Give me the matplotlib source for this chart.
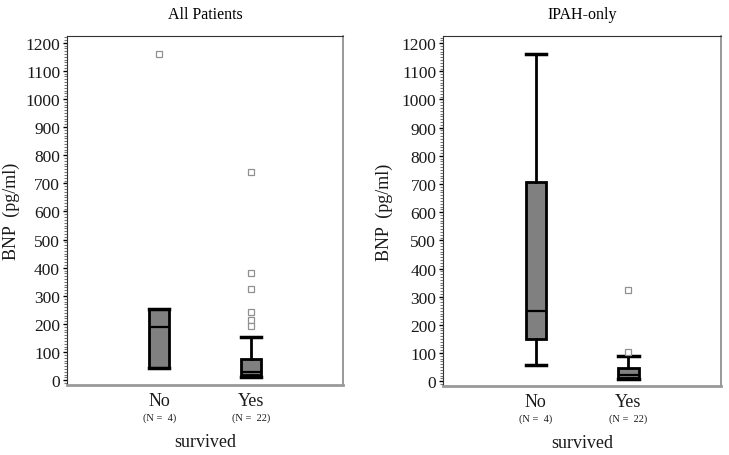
import matplotlib
matplotlib.use('Agg')
import matplotlib.pyplot as plt
from matplotlib.ticker import MultipleLocator, AutoMinorLocator
import matplotlib.transforms as mtransforms

# data
groups = ['No', 'Yes']
counts = [4, 22]

all_q1 = [45, 18]
all_med = [190, 31]
all_q3 = [255, 75]
all_lo = [42, 10]
all_hi = [255, 154]
all_fliers = [[1160], [740, 380, 325, 243, 213, 193]]

ipah_q1 = [150, 12]
ipah_med = [250, 23]
ipah_q3 = [708, 46]
ipah_lo = [58, 8]
ipah_hi = [1160, 91]
ipah_fliers = [[], [325, 105]]

serif = 'Liberation Serif'
txt_col = '#1a1a1a'


def make_stats(q1, med, q3, lo, hi, fliers):
    stats = []
    for i in range(len(groups)):
        stats.append({'q1': q1[i], 'med': med[i], 'q3': q3[i],
                      'whislo': lo[i], 'whishi': hi[i],
                      'fliers': fliers[i], 'label': groups[i]})
    return stats


def draw_panel(ax, stats, title, ylab_x):
    ax.bxp(stats, positions=[1, 2], widths=0.22, patch_artist=True,
           showfliers=True,
           boxprops=dict(facecolor='#808080', edgecolor='black', linewidth=2),
           medianprops=dict(color='black', linewidth=1.6),
           whiskerprops=dict(color='black', linewidth=2),
           capprops=dict(color='black', linewidth=2.5),
           capwidths=0.22,
           flierprops=dict(marker='s', markersize=5, markerfacecolor='white',
                           markeredgecolor='#909090', markeredgewidth=0.9,
                           linestyle='none'))
    ax.set_xlim(0, 3)
    ax.set_ylim(-16, 1224)
    ax.yaxis.set_major_locator(MultipleLocator(100))
    ax.yaxis.set_minor_locator(AutoMinorLocator(10))
    ax.tick_params(axis='y', which='major', length=3, width=1,
                   labelsize=12.5, pad=2)
    ax.tick_params(axis='y', which='minor', length=2, width=0.8,
                   color='#777777')
    ax.tick_params(axis='x', length=0, labelsize=13, pad=5)
    for lab in ax.get_yticklabels():
        lab.set_family(serif)
        lab.set_color(txt_col)
    ax.set_xticks([1, 2])
    ax.set_xticklabels(groups, family=serif, color=txt_col)
    ax.spines['left'].set_color('#333333')
    ax.spines['top'].set_color('#333333')
    ax.spines['right'].set_color('#888888')
    ax.spines['bottom'].set_color('#999999')
    ax.spines['bottom'].set_linewidth(2)
    ax.spines['right'].set_linewidth(1.2)

    trans = mtransforms.blended_transform_factory(ax.transData, ax.transAxes)
    for pos, n in zip([1, 2], counts):
        ax.text(pos, -0.093, '(N =  %d)' % n, transform=trans,
                ha='center', va='center', fontsize=7.5, family=serif,
                color=txt_col)
    ax.text(0.5, -0.162, 'survived', transform=ax.transAxes, ha='center',
            va='center', fontsize=13, family=serif, color=txt_col)
    ax.set_ylabel('BNP  (pg/ml)', family=serif, fontsize=13, color=txt_col)
    ax.yaxis.set_label_coords(ylab_x, 0.5)
    ax.set_title(title, family=serif, fontsize=11.5, pad=13)


fig = plt.figure(figsize=(7.29, 4.56), dpi=100)
ax1 = fig.add_axes([0.092, 0.154, 0.379, 0.765])
ax2 = fig.add_axes([0.608, 0.152, 0.381, 0.766])

draw_panel(ax1, make_stats(all_q1, all_med, all_q3, all_lo, all_hi,
                           all_fliers), 'All Patients', -0.17)
draw_panel(ax2, make_stats(ipah_q1, ipah_med, ipah_q3, ipah_lo, ipah_hi,
                           ipah_fliers), 'IPAH-only', -0.18)

fig.savefig('out.png', dpi=100)
